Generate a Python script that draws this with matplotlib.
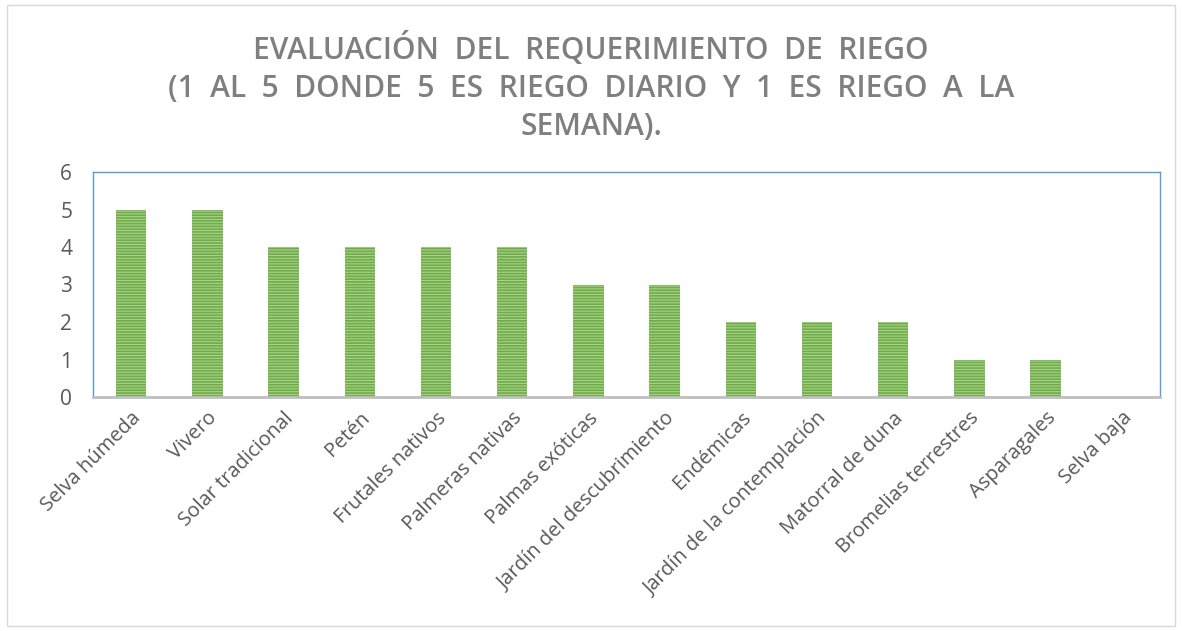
import matplotlib
matplotlib.use('Agg')
import matplotlib.pyplot as plt
from matplotlib.patches import Rectangle

categorias = ['Selva húmeda', 'Vivero', 'Solar tradicional', 'Petén',
              'Frutales nativos', 'Palmeras nativas', 'Palmas exóticas',
              'Jardín del descubrimiento', 'Endémicas',
              'Jardín de la contemplación', 'Matorral de duna',
              'Bromelias terrestres', 'Asparagales', 'Selva baja']
riego = [5, 5, 4, 4, 4, 4, 3, 3, 2, 2, 2, 1, 1, 0]
yticks = [0, 1, 2, 3, 4, 5, 6]

titulo = ('EVALUACIÓN  DEL  REQUERIMIENTO  DE  RIEGO\n'
          '(1  AL  5  DONDE  5  ES  RIEGO  DIARIO  Y  1  ES  RIEGO  A  LA\n'
          'SEMANA).')

plt.rcParams['font.family'] = ['Open Sans', 'DejaVu Sans']
plt.rcParams['hatch.linewidth'] = 1.2

fig = plt.figure(figsize=(11.82, 6.31), dpi=100)
W, H = 1182, 631
ax = fig.add_axes([93 / W, 1 - 397 / H, (1160 - 93) / W, (397 - 172) / H])

x = list(range(len(categorias)))
ax.bar(x, riego, width=0.4, color='#a9d18e', edgecolor='#70ad47',
       hatch='------', linewidth=0)

ax.set_xlim(-0.5, len(categorias) - 0.5)
ax.set_ylim(0, 6)
ax.set_yticks(yticks)
ax.set_yticklabels([str(v) for v in yticks], fontsize=15, color='#595959')
ax.set_xticks(x)
ax.set_xticklabels(categorias, rotation=45, ha='right', rotation_mode='anchor',
                   fontsize=14.5, color='#595959')
ax.tick_params(axis='both', length=0)
ax.tick_params(axis='y', pad=15)
ax.tick_params(axis='x', pad=8)

for s in ['left', 'top', 'right']:
    ax.spines[s].set_color('#5b9bd5')
    ax.spines[s].set_linewidth(1.0)
ax.spines['bottom'].set_color('#bfbfbf')
ax.spines['bottom'].set_linewidth(2.0)

fig.text(0.5, 1 - 87 / H, titulo, ha='center', va='center', fontsize=21.5,
         fontweight='semibold', color='#7f7f7f', linespacing=1.33)

fig.patches.append(Rectangle((7 / W, 5 / H), (1175 - 7) / W, (626 - 5) / H,
                             transform=fig.transFigure, fill=False,
                             edgecolor='#d9d9d9', linewidth=1.0))

fig.savefig('out.png', dpi=100)
